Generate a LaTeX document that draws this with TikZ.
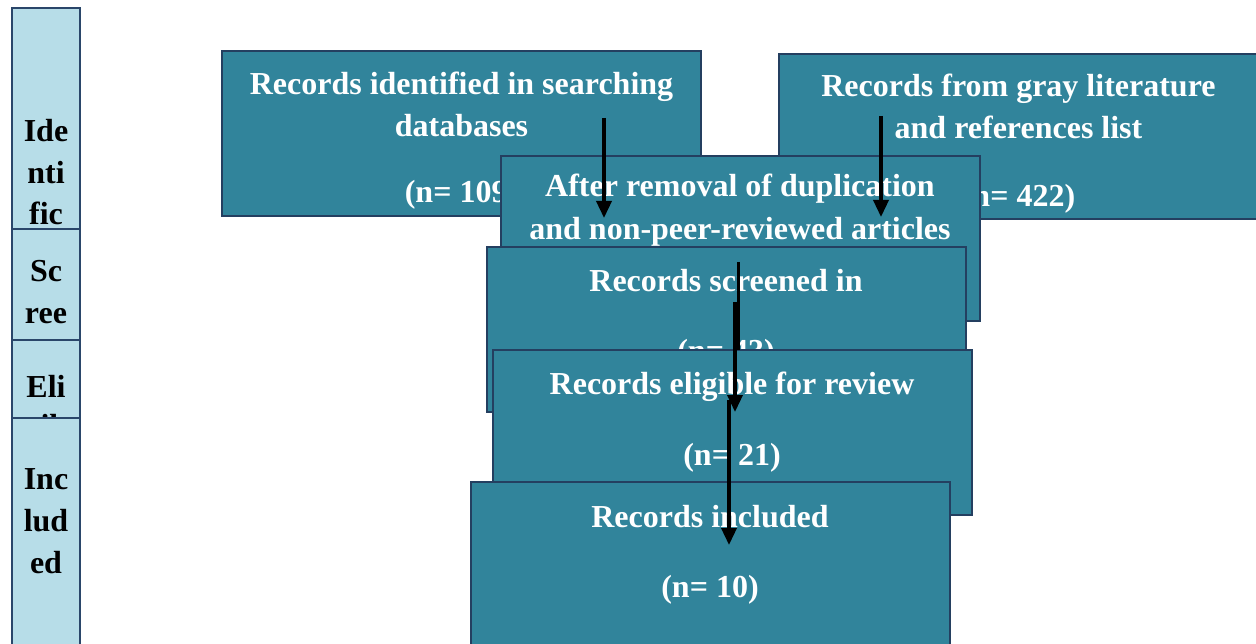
\documentclass[tikz,border=0pt]{standalone}
\usepackage{fontspec}
\setmainfont{Liberation Serif}
\usetikzlibrary{arrows.meta}

\definecolor{boxteal}{HTML}{31849B}
\definecolor{boxedge}{HTML}{243F60}
\definecolor{sidefill}{HTML}{B7DDE8}
\definecolor{sideedge}{HTML}{2A466A}

\tikzset{
  stagebox/.style={draw=sideedge, fill=sidefill, line width=2.5pt,
    inner sep=0pt, outer sep=0pt, anchor=north west, minimum width=68pt},
  stagetext/.style={text=black, anchor=base, inner sep=0pt,
    font=\bfseries\fontsize{32}{42}\selectfont},
  flowbox/.style={draw=boxedge, fill=boxteal, line width=2pt,
    inner sep=0pt, outer sep=0pt, anchor=north west,
    minimum width=479pt, minimum height=165pt},
  flowtext/.style={text=white, anchor=base, inner sep=0pt,
    font=\bfseries\fontsize{32}{42}\selectfont},
  flowarrow/.style={-{Triangle[width=15pt,length=17pt]}, line width=3.5pt, black},
  flowline/.style={line width=3pt, black}
}

\begin{document}
\begin{tikzpicture}[x=1pt,y=-1pt]
\useasboundingbox (0,0) rectangle (1256,644);
\clip (0,0) rectangle (1256,644);

% ---- stage column on the left ----
\node[stagebox, minimum height=221pt] (stId) at (12,8) {};
\node[stagetext] (stId1) at (46,142) {Ide};
\node[stagetext] (stId2) at (46,184) {nti};
\node[stagetext] (stId3) at (46,225) {fic};

\node[stagebox, minimum height=111pt] (stSc) at (12,229) {};
\node[stagetext] (stSc1) at (46,282) {Sc};
\node[stagetext] (stSc2) at (46,324) {ree};

\node[stagebox, minimum height=78pt] (stEl) at (12,340) {};
\node[stagetext] (stEl1) at (46,397) {Eli};
\node[stagetext] (stEl2) at (46,436) {gib};

\node[stagebox, minimum height=240pt] (stIn) at (12,418) {};
\node[stagetext] (stIn1) at (46,489) {Inc};
\node[stagetext] (stIn2) at (46,531) {lud};
\node[stagetext] (stIn3) at (46,573) {ed};

% ---- flow boxes ----
\node[flowbox] (db) at (222,51) {};
\node[flowtext] (db1) at (461.5,95) {Records identified in searching};
\node[flowtext] (db2) at (461.5,137) {databases};
\node[flowtext] (db3) at (461.5,203) {(n= 109)};

\node[flowbox] (gray) at (779,54) {};
\node[flowtext] (gray1) at (1018.5,97) {Records from gray literature};
\node[flowtext] (gray2) at (1018.5,139) {and references list};
\node[flowtext] (gray3) at (1018.5,207) {(n= 422)};

\node[flowbox] (dup) at (501,156) {};
\node[flowtext] (dup1) at (740,197) {After removal of duplication};
\node[flowtext] (dup2) at (740,240) {and non-peer-reviewed articles};

\node[flowbox] (scr) at (487,247) {};
\node[flowtext] (scr1) at (726,292) {Records screened in};
\node[flowtext] (scr2) at (726,362) {(n= 43)};

\node[flowbox] (elig) at (493,350) {};
\node[flowtext] (elig1) at (732,395) {Records eligible for review};
\node[flowtext] (elig2) at (732,465) {(n= 21)};

\node[flowbox] (inc) at (471,482) {};
\node[flowtext] (inc1) at (710,527) {Records included};
\node[flowtext] (inc2) at (710,597) {(n= 10)};

% ---- connectors ----
\coordinate (a1s) at (604,118);
\coordinate (a1e) at (604,218);
\coordinate (a2s) at (881,116);
\coordinate (a2e) at (881,217);
\coordinate (a3s) at (738.5,262);
\coordinate (a3m) at (738.5,350);
\coordinate (a4s) at (735,302);
\coordinate (a4e) at (735,412);
\coordinate (a5s) at (729,400);
\coordinate (a5e) at (729,545);

\draw[flowarrow] (a1s) -- (a1e);
\draw[flowarrow] (a2s) -- (a2e);
\draw[flowline] (a3s) -- (a3m);
\draw[flowarrow] (a4s) -- (a4e);
\draw[flowarrow] (a5s) -- (a5e);
\end{tikzpicture}
\end{document}
